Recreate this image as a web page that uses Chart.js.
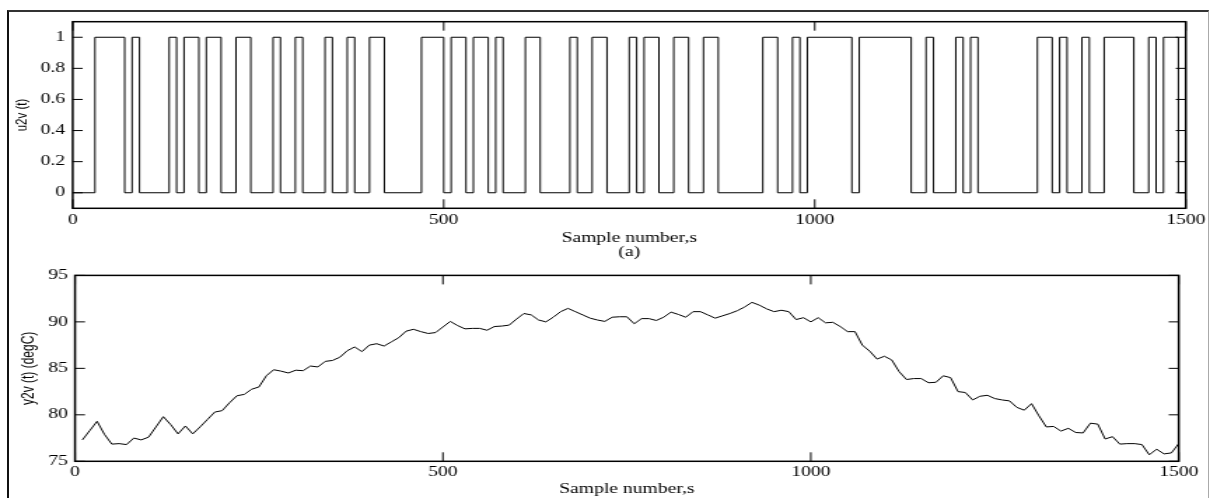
<!DOCTYPE html>
<html>
<head>
<meta charset="utf-8">
<title>u2v / y2v</title>
<script src="https://cdn.jsdelivr.net/npm/chart.js@4.4.0/dist/chart.umd.min.js"></script>
<style>
  html, body { margin: 0; padding: 0; background: #fff; }
  body { width: 1210px; height: 498px; position: relative; overflow: hidden; }
  #frame { position: absolute; left: 7px; top: 10px; width: 1199px; height: 500px;
           border-left: 2px solid #111; border-top: 2px solid #333; border-right: 1px solid #aaa; }
  canvas { position: absolute; left: 0; }
</style>
</head>
<body>
<div id="frame"></div>
<canvas id="topChart" width="864" height="262" style="top:0;width:1210px;height:262px"></canvas>
<canvas id="bottomChart" width="864" height="236" style="top:262px;width:1210px;height:236px"></canvas>
<script>
// sample axis ticks
const xTicks = [0, 500, 1000, 1500];
const uTicks = [0, 0.2, 0.4, 0.6, 0.8, 1];
const yTicks = [75, 80, 85, 90, 95];

// u2v(t): switching instants and the level held after each one
const uTimes = [0, 30, 70, 80, 90, 130, 140, 150, 170, 180, 200, 220, 240, 270, 280, 300, 310,
  340, 350, 370, 380, 400, 420, 470, 500, 510, 530, 540, 560, 570, 580, 610, 630, 670, 680,
  700, 720, 750, 760, 770, 790, 810, 830, 850, 870, 930, 950, 970, 980, 990, 1050, 1060,
  1130, 1150, 1160, 1190, 1200, 1210, 1220, 1300, 1320, 1330, 1340, 1360, 1370, 1390,
  1430, 1450, 1460, 1470, 1490, 1500];
const uLevels = [0, 1, 0, 1, 0, 1, 0, 1, 0, 1, 0, 1, 0, 1, 0, 1, 0,
  1, 0, 1, 0, 1, 0, 1, 0, 1, 0, 1, 0, 1, 0, 1, 0, 1, 0,
  1, 0, 1, 0, 1, 0, 1, 0, 1, 0, 1, 0, 1, 0, 1, 0, 1,
  0, 1, 0, 1, 0, 1, 0, 1, 0, 1, 0, 1, 0, 1,
  0, 1, 0, 1, 0, 0];

// y2v(t) in degC, one reading every 10 samples from 10 to 1500
const sampleStep = 10;
const y2v = [
  77.3, 78.3, 79.3, 77.9, 76.85, 76.9, 76.8, 77.5, 77.3, 77.6,
  78.7, 79.8, 78.95, 77.95, 78.8, 77.95, 78.7, 79.5, 80.3, 80.45,
  81.3, 82.05, 82.2, 82.75, 83.0, 84.2, 84.85, 84.7, 84.5, 84.8,
  84.75, 85.25, 85.15, 85.75, 85.85, 86.2, 86.9, 87.3, 86.8, 87.5,
  87.65, 87.4, 87.85, 88.3, 89.0, 89.2, 88.95, 88.75, 88.85, 89.45,
  90.05, 89.6, 89.25, 89.3, 89.3, 89.1, 89.5, 89.55, 89.65, 90.3,
  90.9, 90.75, 90.2, 90.0, 90.5, 91.1, 91.45, 91.1, 90.75, 90.4,
  90.2, 90.05, 90.5, 90.55, 90.55, 89.8, 90.35, 90.35, 90.15, 90.5,
  91.05, 90.8, 90.5, 91.1, 91.1, 90.75, 90.4, 90.65, 90.9, 91.2,
  91.6, 92.1, 91.8, 91.4, 91.1, 91.25, 91.1, 90.25, 90.45, 90.0,
  90.45, 89.9, 89.95, 89.5, 88.95, 88.95, 87.5, 86.85, 86.0, 86.3,
  85.9, 84.65, 83.8, 83.9, 83.9, 83.45, 83.5, 84.2, 84.0, 82.5,
  82.4, 81.6, 82.0, 82.1, 81.75, 81.6, 81.5, 80.8, 80.5, 81.2,
  79.9, 78.7, 78.75, 78.25, 78.55, 78.1, 78.05, 79.1, 79.0, 77.4,
  77.65, 76.85, 76.9, 76.9, 76.8, 75.7, 76.3, 75.8, 75.9, 76.9
];

// the figure is drawn narrow and stretched sideways, like the original
const W = 864;
const sx = 1210 / W;
const ix = (css) => css / sx;

const serif = 'Liberation Serif';
const sans = 'Liberation Sans';

// box round the plot area with inward ticks on all four sides
const matlabBox = {
  id: 'matlabBox',
  afterDatasetsDraw(chart) {
    const { ctx, chartArea: a, scales } = chart;
    ctx.save();
    ctx.strokeStyle = '#000';
    ctx.lineWidth = 1;
    ctx.beginPath();
    scales.x.ticks.forEach(t => {
      const px = scales.x.getPixelForValue(t.value);
      ctx.moveTo(px, a.top); ctx.lineTo(px, a.top + 9);
      ctx.moveTo(px, a.bottom); ctx.lineTo(px, a.bottom - 9);
    });
    scales.y.ticks.forEach(t => {
      const py = scales.y.getPixelForValue(t.value);
      ctx.moveTo(a.left, py); ctx.lineTo(a.left + ix(10), py);
      ctx.moveTo(a.right, py); ctx.lineTo(a.right - ix(10), py);
    });
    ctx.stroke();
    ctx.lineWidth = 1.5;
    ctx.strokeRect(a.left, a.top, a.right - a.left, a.bottom - a.top);
    ctx.restore();
  }
};

function makeChart(canvas, cfg) {
  const h = canvas.height;
  return new Chart(canvas.getContext('2d'), {
    type: 'line',
    data: {
      datasets: [{
        data: cfg.points,
        borderColor: '#000',
        borderWidth: 1,
        pointRadius: 0,
        tension: 0,
        stepped: cfg.stepped || false
      }]
    },
    options: {
      responsive: false,
      devicePixelRatio: 1,
      animation: false,
      events: [],
      layout: {
        padding: { left: ix(6), right: W - ix(cfg.right), top: cfg.top, bottom: 0 }
      },
      plugins: { legend: { display: false }, tooltip: { enabled: false } },
      scales: {
        x: {
          type: 'linear', min: 0, max: 1500,
          afterBuildTicks: s => { s.ticks = xTicks.map(v => ({ value: v })); },
          afterFit: s => { s.height = h - cfg.bottom; },
          grid: { display: false, drawTicks: false },
          border: { display: false },
          ticks: {
            color: '#000', padding: cfg.xPad, maxRotation: 0, autoSkip: false,
            font: { family: serif, size: 14, lineHeight: 1.2 },
            callback: v => String(v)
          },
          title: {
            display: true, text: cfg.xTitle, color: '#000',
            font: { family: serif, size: 14, lineHeight: 1 },
            padding: { top: 0, bottom: cfg.xTitlePad }
          }
        },
        y: {
          min: cfg.yMin, max: cfg.yMax,
          afterBuildTicks: s => { s.ticks = cfg.yTicks.map(v => ({ value: v })); },
          afterFit: s => { s.width = ix(cfg.left) - ix(6); },
          grid: { display: false, drawTicks: false },
          border: { display: false },
          ticks: {
            color: '#000', padding: ix(cfg.left - cfg.yLabelRight), autoSkip: false,
            font: { family: serif, size: 14, lineHeight: 1.2 },
            callback: v => String(v)
          },
          title: {
            display: true, text: cfg.yTitle, color: '#000',
            font: { family: sans, size: cfg.yTitleSize, lineHeight: 1.2 },
            padding: { top: ix(cfg.yTitleX) - ix(6) - cfg.yTitleSize * 0.6, bottom: 0 }
          }
        }
      }
    },
    plugins: [matlabBox]
  });
}

makeChart(document.getElementById('topChart'), {
  points: uTimes.map((t, i) => ({ x: t, y: uLevels[i] })),
  stepped: 'before',
  left: 72.7, right: 1186, top: 21.7, bottom: 208.3,
  yMin: -0.1, yMax: 1.1, yTicks: uTicks,
  yLabelRight: 65, xPad: 3.3, xTitlePad: 3,
  xTitle: ['Sample number,s', '(a)'],
  yTitle: 'u2v (t)', yTitleSize: 11.5, yTitleX: 22.7
});

makeChart(document.getElementById('bottomChart'), {
  points: y2v.map((v, i) => ({ x: (i + 1) * sampleStep, y: v })),
  left: 75, right: 1178.7, top: 12, bottom: 199.3,
  yMin: 75, yMax: 95, yTicks: yTicks,
  yLabelRight: 68, xPad: 2.8, xTitlePad: 2,
  xTitle: 'Sample number,s',
  yTitle: 'y2v (t) (degC)', yTitleSize: 12, yTitleX: 28.5
});
</script>
</body>
</html>
